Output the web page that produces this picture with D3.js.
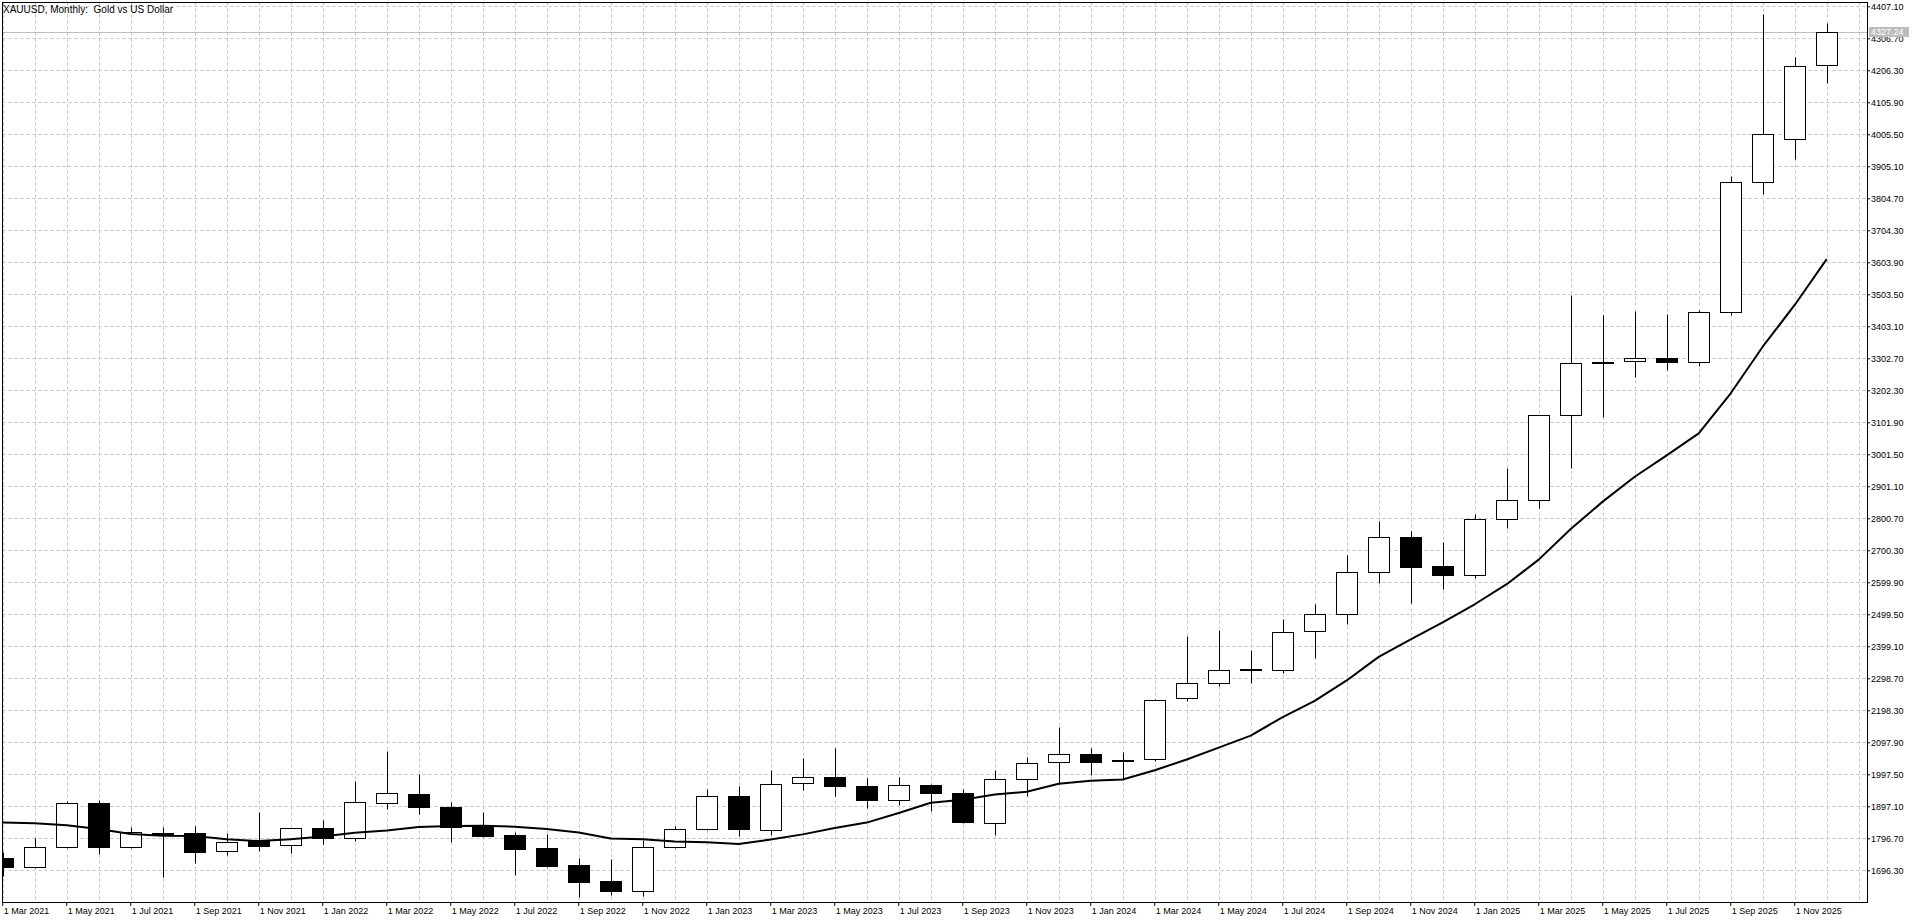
<!DOCTYPE html>
<html><head><meta charset="utf-8">
<script src="https://cdn.jsdelivr.net/npm/d3@7"></script>
<style>
html,body{margin:0;padding:0;background:#fff;overflow:hidden}
svg{display:block}
text{font-family:"Liberation Sans",Arial,sans-serif;font-size:9px;fill:#000}
</style></head><body>
<svg id="c" width="1920" height="923"></svg>
<script>
// ---- data ----
const title = "XAUUSD, Monthly:  Gold vs US Dollar";
const months = ["2021-03","2021-04","2021-05","2021-06","2021-07","2021-08","2021-09","2021-10","2021-11","2021-12",
"2022-01","2022-02","2022-03","2022-04","2022-05","2022-06","2022-07","2022-08","2022-09","2022-10","2022-11","2022-12",
"2023-01","2023-02","2023-03","2023-04","2023-05","2023-06","2023-07","2023-08","2023-09","2023-10","2023-11","2023-12",
"2024-01","2024-02","2024-03","2024-04","2024-05","2024-06","2024-07","2024-08","2024-09","2024-10","2024-11","2024-12",
"2025-01","2025-02","2025-03","2025-04","2025-05","2025-06","2025-07","2025-08","2025-09","2025-10","2025-11","2025-12"];
const open  = [1734,1706,1769,1906,1769,1813,1813,1756,1788,1775,
1829,1797,1907,1936,1895,1837,1807,1766,1713,1663,1632,1768,
1825,1928,1824,1971,1990,1962,1918,1965,1940,1845,1983,2036,
2062,2041,2044,2238,2285,2326,2326,2448,2502,2633,2743,2652,
2624,2800,2859,3124,3289,3295,3303,3290,3447,3857,3990,4222];
const high  = [1755,1799,1913,1916,1833,1832,1835,1813,1879,1829,
1854,1976,2070,1998,1912,1879,1818,1810,1736,1732,1791,1836,
1951,1960,2010,2048,2080,1986,1989,1966,1952,2010,2051,2145,
2080,2068,2234,2430,2449,2386,2484,2531,2685,2791,2762,2725,
2815,2958,3126,3501,3439,3451,3442,3454,3875,4383,4248,4356];
const low   = [1677,1705,1765,1749,1765,1676,1720,1745,1758,1752,
1779,1787,1890,1872,1786,1802,1680,1708,1614,1618,1617,1767,
1823,1804,1806,1947,1928,1892,1900,1882,1846,1806,1929,1968,
1996,1980,2039,2228,2274,2284,2315,2361,2468,2598,2535,2579,
2613,2770,2833,2957,3120,3245,3266,3280,3437,3818,3927,4165];
const close = [1708,1768,1906,1770,1815,1814,1755,1784,1774,1828,
1797,1910,1938,1896,1833,1804,1764,1710,1660,1632,1768,1825,
1928,1827,1968,1990,1961,1918,1965,1939,1848,1984,2034,2062,
2036,2043,2232,2285,2326,2327,2445,2502,2633,2743,2648,2624,
2800,2859,3124,3287,3290,3303,3290,3447,3857,4005,4219,4327.24];
const ma10  = [1846,1844,1838,1826,1810,1805,1804,1794,1788,1794,
1802,1814,1821,1832,1835,1836,1833,1826,1815,1796,1794,1787,
1784,1779,1793,1809,1829,1846,1876,1908,1918,1934,1943,1968,
1977,1981,2010,2044,2081,2119,2177,2228,2292,2366,2421,2474,
2531,2594,2671,2767,2853,2931,2998,3067,3193,3339,3470,3614];
const xTickLabels = ["1 Mar 2021","1 May 2021","1 Jul 2021","1 Sep 2021","1 Nov 2021","1 Jan 2022","1 Mar 2022","1 May 2022",
"1 Jul 2022","1 Sep 2022","1 Nov 2022","1 Jan 2023","1 Mar 2023","1 May 2023","1 Jul 2023","1 Sep 2023","1 Nov 2023",
"1 Jan 2024","1 Mar 2024","1 May 2024","1 Jul 2024","1 Sep 2024","1 Nov 2024","1 Jan 2025","1 Mar 2025","1 May 2025",
"1 Jul 2025","1 Sep 2025","1 Nov 2025"];
const yTickValues = [1696.30,1796.70,1897.10,1997.50,2097.90,2198.30,2298.70,2399.10,2499.50,2599.90,2700.30,2800.70,
2901.10,3001.50,3101.90,3202.30,3302.70,3403.10,3503.50,3603.90,3704.30,3804.70,3905.10,4005.50,4105.90,4206.30,4306.70,4407.10];
const currentPrice = 4327.24;

// ---- layout ----
const L = 2.5, T = 2.5, R = 1867.5, B = 902.5;
const svg = d3.select("#c");
const slots = d3.range(months.length + 1);
const x = d3.scaleBand().domain(slots).range([-13.3, -13.3 + slots.length * 32]);
const cx = i => x(i) + x.bandwidth() / 2;
const px = i => Math.round(cx(i)) + 0.5;
const y = d3.scaleLinear().domain([1696.3, 4407.1]).range([870.3, 6.3]);
const py = v => Math.round(y(v)) + 0.5;

svg.append("rect").attr("width", 1920).attr("height", 923).attr("fill", "#fff");
svg.append("defs").append("clipPath").attr("id", "clip")
  .append("rect").attr("x", L).attr("y", T).attr("width", R - L).attr("height", B - T);

const plotG = svg.append("g").attr("clip-path", "url(#clip)");

// grid
plotG.append("g").selectAll("line").data(yTickValues).join("line")
  .attr("x1", L).attr("x2", R).attr("y1", d => py(d)).attr("y2", d => py(d))
  .attr("stroke", "#c4c4c4").attr("stroke-dasharray", "3,3");
plotG.append("g").selectAll("line").data(slots).join("line")
  .attr("x1", d => px(d)).attr("x2", d => px(d)).attr("y1", T).attr("y2", B)
  .attr("stroke", "#c4c4c4").attr("stroke-dasharray", "3,3");

// current price line
plotG.append("line").attr("x1", L).attr("x2", R)
  .attr("y1", py(currentPrice)).attr("y2", py(currentPrice))
  .attr("stroke", "#bdbdbd").attr("stroke-width", 1);

// candles
const idx = d3.range(months.length);
const cg = plotG.append("g");
cg.selectAll("line").data(idx).join("line")
  .attr("x1", i => px(i)).attr("x2", i => px(i))
  .attr("y1", i => py(high[i])).attr("y2", i => py(low[i]))
  .attr("stroke", "#000").attr("stroke-width", 1);
cg.selectAll("rect").data(idx).join("rect")
  .attr("x", i => Math.round(cx(i)) - 11 + 0.5)
  .attr("width", 21)
  .attr("y", i => py(Math.max(open[i], close[i])))
  .attr("height", i => Math.max(1, py(Math.min(open[i], close[i])) - py(Math.max(open[i], close[i]))))
  .attr("fill", i => close[i] >= open[i] ? "#fff" : "#000")
  .attr("stroke", "#000").attr("stroke-width", 1);

// moving average
plotG.append("path").datum(idx)
  .attr("d", d3.line().x(i => cx(i)).y(i => y(ma10[i])))
  .attr("fill", "none").attr("stroke", "#000").attr("stroke-width", 2)
  .attr("stroke-linejoin", "round");

// frame
svg.append("rect").attr("x", L).attr("y", T).attr("width", R - L).attr("height", B - T)
  .attr("fill", "none").attr("stroke", "#000").attr("stroke-width", 1);

// y axis (right)
const yAxis = svg.append("g").attr("transform", `translate(${R - 0.5},0)`)
  .call(d3.axisRight(y).tickValues(yTickValues).tickSize(3).tickPadding(1).tickFormat(d3.format(".2f")));
yAxis.select(".domain").remove();
yAxis.selectAll("text").attr("font-family", "Liberation Sans, Arial, sans-serif").attr("font-size", 9);

// x axis (bottom)
const xTicks = idx.filter(i => i % 2 === 0);
const xAxis = svg.append("g").attr("transform", `translate(0,${B - 0.5})`)
  .call(d3.axisBottom(x).tickValues(xTicks).tickSize(4).tickPadding(2)
    .tickFormat(i => xTickLabels[i / 2]));
xAxis.select(".domain").remove();
xAxis.selectAll("text").attr("text-anchor", "start").attr("x", 1)
  .attr("font-family", "Liberation Sans, Arial, sans-serif").attr("font-size", 9);

// current price label
svg.append("rect").attr("x", 1869).attr("y", Math.round(y(currentPrice)) - 5)
  .attr("width", 40).attr("height", 10).attr("fill", "#bcbcbc");
svg.append("text").attr("x", 1871).attr("y", y(currentPrice)).attr("dy", "0.34em")
  .style("fill", "#fff").text(d3.format(".2f")(currentPrice));

// title
svg.append("text").attr("x", 3).attr("y", 13)
  .style("font-size", "10px").style("white-space", "pre").text(title);
</script>
</body></html>
